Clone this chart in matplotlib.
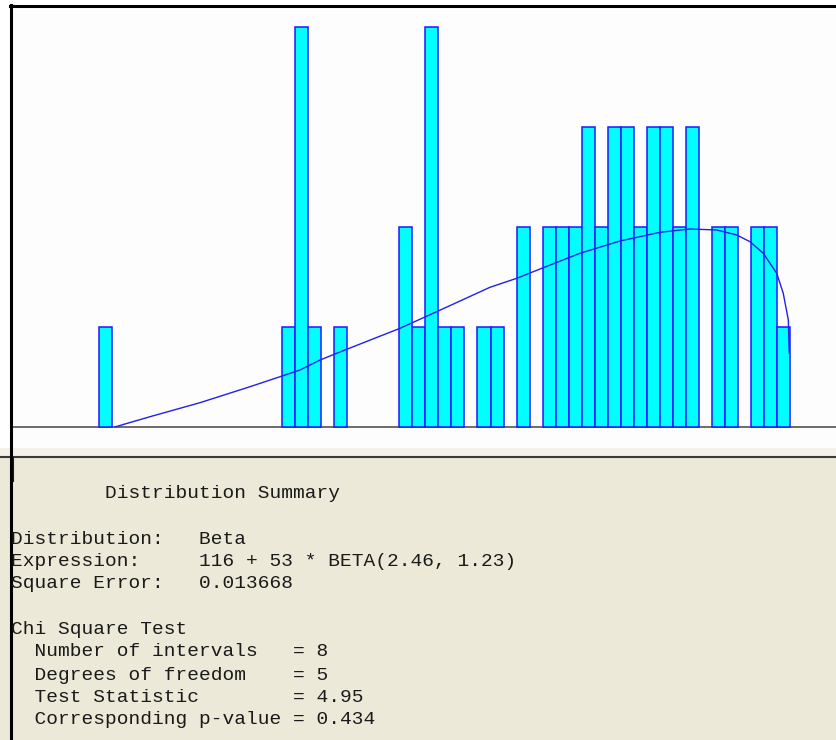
# Histogram with fitted Beta curve and a distribution summary panel underneath
import matplotlib
matplotlib.use("Agg")
import matplotlib.pyplot as plt
from matplotlib.patches import Rectangle
from matplotlib.lines import Line2D

# data: one bar per unit interval starting at 116
bin_left = [116, 130, 131, 132, 134, 139, 140, 141, 142, 143, 145, 146, 148,
            150, 151, 152, 153, 154, 155, 156, 157, 158, 159, 160, 161, 163,
            164, 166, 167, 168]
counts = [1, 1, 4, 1, 1, 2, 1, 4, 1, 1, 1, 1, 2,
          2, 2, 2, 3, 2, 3, 3, 2, 3, 3, 2, 3, 2,
          2, 2, 2, 1]

# fitted density curve
curve_x = [117.2, 117.97, 119.89, 123.72, 127.56, 129.86, 131.39, 132.93, 134.84,
           139.06, 141.87, 145.96, 148.01, 150.05, 152.86, 155.93, 159.0, 161.3,
           163.35, 164.88, 165.9, 166.92, 167.95, 168.45, 168.84, 168.91]
curve_y = [0.0, 0.03, 0.103, 0.243, 0.403, 0.503, 0.57, 0.67, 0.77,
           0.987, 1.153, 1.397, 1.487, 1.593, 1.737, 1.86, 1.947, 1.98,
           1.97, 1.92, 1.853, 1.737, 1.537, 1.337, 1.07, 0.737]

summary_lines = [
    "        Distribution Summary",
    "Distribution:   Beta",
    "Expression:     116 + 53 * BETA(2.46, 1.23)",
    "Square Error:   0.013668",
    "Chi Square Test",
    "  Number of intervals   = 8",
    "  Degrees of freedom    = 5",
    "  Test Statistic        = 4.95",
    "  Corresponding p-value = 0.434",
]
line_rows = [494, 539, 562, 584, 629, 652, 675, 697, 720]

W, H = 837, 740
fig = plt.figure(figsize=(W / 100, H / 100), dpi=100)
fig.patch.set_facecolor("white")

def fx(px):
    return px / W

def fy(py):
    return 1 - py / H

# bottom summary panel
fig.add_artist(Rectangle((0, 0), 1, fy(458), transform=fig.transFigure,
                         facecolor="#ECE9D8", edgecolor="none", zorder=0))
fig.add_artist(Rectangle((0, fy(456)), 1, fy(448) - fy(456), transform=fig.transFigure,
                         facecolor="#F3F1E8", edgecolor="none", zorder=0))
fig.add_artist(Line2D([0, 1], [fy(457.5), fy(457.5)], transform=fig.transFigure,
                      color="#3a3a3a", lw=1.5))
fig.add_artist(Line2D([fx(13.5), fx(13.5)], [fy(458), fy(481)], transform=fig.transFigure,
                      color="#202020", lw=1.5))

# histogram area
ax = fig.add_axes([fx(12), fy(447), 1 - fx(12), fy(7) - fy(447)])
ax.set_xlim(116 - (99.3 - 12) / 13.04, 116 + (837 - 99.3) / 13.04)
ax.set_ylim(-0.2, 4.2)
ax.set_facecolor("#FDFDFD")
for s in ax.spines.values():
    s.set_visible(False)
ax.set_xticks([])
ax.set_yticks([])

ax.axhline(0, color="#606060", lw=1.3, zorder=1)
ax.bar(bin_left, counts, width=1.0, align="edge", color="#00FFFF",
       edgecolor="#1a1aff", linewidth=1.1, zorder=2)
ax.plot(curve_x, curve_y, color="#2020E8", lw=1.0, zorder=3)

# black frame on the left and top
fig.add_artist(Line2D([fx(11), fx(11)], [0, fy(5)], transform=fig.transFigure,
                      color="black", lw=2.2))
fig.add_artist(Line2D([fx(10), 1], [fy(6), fy(6)], transform=fig.transFigure,
                      color="black", lw=2.2))

for txt, row in zip(summary_lines, line_rows):
    fig.text(fx(11), fy(row), txt, family="Liberation Mono", fontsize=14,
             color="#1a1a1a", ha="left", va="center")

fig.savefig("out.png", dpi=100)
